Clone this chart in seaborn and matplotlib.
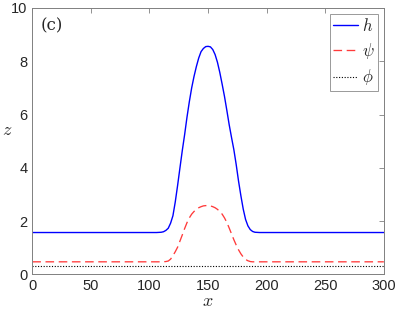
import numpy as np
import pandas as pd
import matplotlib
matplotlib.use("Agg")
import matplotlib.pyplot as plt
import seaborn as sns

sns.set_style("white")
plt.rcParams["font.family"] = ["Liberation Sans", "DejaVu Sans"]
plt.rcParams["mathtext.fontset"] = "cm"

# h profile
x_h = [0, 100, 106, 110, 112, 114, 116, 118, 120, 122, 124, 126, 128, 130,
       132, 134, 136, 138, 140, 142, 144, 146, 148, 150, 152, 154, 156, 158,
       160, 162, 164, 166, 168, 170, 172, 174, 176, 178, 180, 182, 184, 186,
       188, 190, 194, 300]
h = [1.57, 1.57, 1.57, 1.58, 1.60, 1.65, 1.73, 1.92, 2.20, 2.72, 3.34, 4.00,
     4.65, 5.25, 5.90, 6.48, 7.00, 7.43, 7.80, 8.12, 8.36, 8.48, 8.55, 8.56,
     8.54, 8.44, 8.25, 7.96, 7.58, 7.14, 6.68, 6.16, 5.62, 5.14, 4.68, 4.12,
     3.50, 2.95, 2.45, 2.06, 1.82, 1.68, 1.61, 1.58, 1.57, 1.57]

# psi profile
x_psi = [0, 100, 110, 114, 116, 118, 120, 122, 124, 126, 128, 130, 132, 134,
         136, 138, 140, 142, 144, 146, 148, 150, 152, 154, 156, 158, 160, 162,
         164, 166, 168, 170, 172, 174, 176, 178, 180, 182, 184, 186, 188, 192,
         300]
psi = [0.47, 0.47, 0.47, 0.48, 0.50, 0.57, 0.70, 0.85, 1.02, 1.25, 1.48, 1.72,
       1.94, 2.12, 2.26, 2.36, 2.44, 2.50, 2.54, 2.57, 2.58, 2.58, 2.57, 2.54,
       2.50, 2.44, 2.36, 2.26, 2.12, 1.95, 1.74, 1.52, 1.30, 1.10, 0.92, 0.77,
       0.65, 0.56, 0.51, 0.48, 0.47, 0.47, 0.47]

# phi (constant)
x_phi = [0, 300]
phi = [0.30, 0.30]

df = pd.concat([
    pd.DataFrame({"x": x_h, "z": h, "var": "h"}),
    pd.DataFrame({"x": x_psi, "z": psi, "var": "psi"}),
    pd.DataFrame({"x": x_phi, "z": phi, "var": "phi"}),
])

fig = plt.figure(figsize=(3.99, 3.19), dpi=100)
ax = fig.add_axes([0.081, 0.140, 0.881, 0.835])

sns.lineplot(data=df[df["var"] == "h"], x="x", y="z", ax=ax, color="#0000ff",
             lw=1.0, label=r"$h$")
sns.lineplot(data=df[df["var"] == "psi"], x="x", y="z", ax=ax, color="#ff3a3a",
             lw=0.95, label=r"$\psi$")
ax.lines[-1].set_linestyle((0, (6.5, 3.5)))
sns.lineplot(data=df[df["var"] == "phi"], x="x", y="z", ax=ax, color="black",
             lw=0.8, label=r"$\phi$")
ax.lines[-1].set_linestyle((0, (1, 1.5)))

ax.set_xlim(0, 300)
ax.set_ylim(0, 10)
ax.set_xticks([0, 50, 100, 150, 200, 250, 300])
ax.set_yticks([0, 2, 4, 6, 8, 10])
ax.tick_params(direction="in", top=True, right=True, length=3.5, width=0.6,
               colors="#808080", labelcolor="#262626", labelsize=10.5)
for s in ax.spines.values():
    s.set_color("#808080")
    s.set_linewidth(0.7)

ax.set_xlabel(r"$x$", fontsize=13, labelpad=0)
ax.set_ylabel(r"$z$", fontsize=13, rotation=0, va="center", ha="center")
ax.yaxis.set_label_coords(-0.072, 0.54)
ax.text(0.025, 0.965, "(c)", transform=ax.transAxes, ha="left", va="top",
        fontsize=12, family="DejaVu Serif")

leg = ax.legend(loc="upper right", fontsize=12, frameon=True, fancybox=False,
                handlelength=1.5, borderpad=0.2, labelspacing=0.4,
                handletextpad=0.25, borderaxespad=0.35)
leg.get_frame().set_edgecolor("#808080")
leg.get_frame().set_linewidth(0.7)

fig.savefig("out.png", dpi=100)
